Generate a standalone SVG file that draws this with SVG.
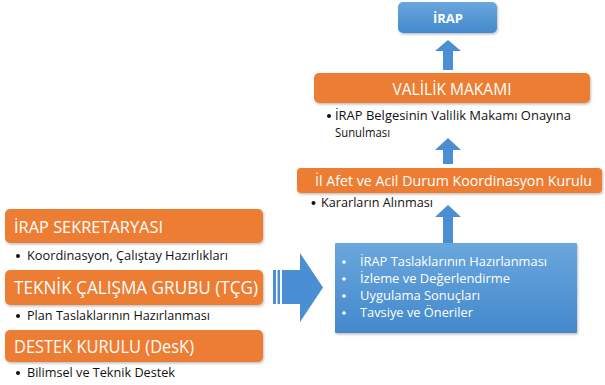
<svg xmlns="http://www.w3.org/2000/svg" width="605" height="385" viewBox="0 0 605 385">
<defs>
<linearGradient id="blueG" x1="0" y1="0" x2="0" y2="1">
<stop offset="0" stop-color="#6aa7dd"/>
<stop offset="1" stop-color="#4389cc"/>
</linearGradient>
<filter id="sh" x="-5%" y="-10%" width="110%" height="130%">
<feDropShadow dx="1" dy="1.5" stdDeviation="1.2" flood-color="#000" flood-opacity="0.25"/>
</filter>
</defs>
<style>
.org{fill:#ed7d31;filter:url(#sh)}
.blu{fill:url(#blueG);filter:url(#sh)}
.arr{fill:#4a8fd3}
.hd{font-family:"Open Sans","Noto Sans",sans-serif;fill:#fff}
.bl{font-family:"Open Sans","Noto Sans",sans-serif;fill:#111;font-size:12px}
.wt{font-family:"Open Sans","Noto Sans",sans-serif;fill:#fff;font-size:12.5px}
.dot{fill:#111}
.wdot{fill:#fff}
</style>
<rect width="605" height="385" fill="#fff"/>
<g id="connectors">
<path class="arr" d="M448,40 L461,51 L453,51 L453,70 L443,70 L443,51 L435,51 Z"/>
<path class="arr" d="M448,138 L461,150 L453,150 L453,164 L443,164 L443,150 L435,150 Z"/>
<path class="arr" d="M448,205 L461,217 L453,217 L453,243 L443,243 L443,217 L435,217 Z"/>
<g class="arr">
<rect x="273" y="270" width="3" height="34"/>
<rect x="277.5" y="270" width="2.5" height="34"/>
<path d="M282,270 L300,270 L300,253 L323,287.5 L300,322 L300,304 L282,304 Z"/>
</g>
</g>
<g id="irap">
<rect class="blu" x="398" y="2" width="99" height="31" rx="5"/>
<text class="hd" x="448" y="23" font-size="13" font-weight="bold" text-anchor="middle">İRAP</text>
</g>
<g id="valilik">
<rect class="org" x="314" y="73" width="276" height="30" rx="5"/>
<text class="hd" x="452" y="95" font-size="17" text-anchor="middle" textLength="119" lengthAdjust="spacingAndGlyphs">VALİLİK MAKAMI</text>
<circle class="dot" cx="329" cy="116" r="2"/>
<text class="bl" x="335" y="120" textLength="236" lengthAdjust="spacingAndGlyphs">İRAP Belgesinin Valilik Makamı Onayına</text>
<text class="bl" x="335" y="137" textLength="55" lengthAdjust="spacingAndGlyphs">Sunulması</text>
</g>
<g id="il-afet">
<rect class="org" x="297" y="168" width="305" height="25" rx="4"/>
<text class="hd" x="315" y="186" font-size="14" textLength="277" lengthAdjust="spacingAndGlyphs">İl Afet ve Acil Durum Koordinasyon Kurulu</text>
<circle class="dot" cx="313.5" cy="203" r="2"/>
<text class="bl" x="321" y="207" textLength="112" lengthAdjust="spacingAndGlyphs">Kararların Alınması</text>
</g>
<g id="blue-box">
<rect class="blu" x="335" y="243" width="242" height="90" rx="1"/>
<circle class="wdot" cx="344" cy="262" r="1.8"/>
<text class="wt" x="360" y="266" textLength="187" lengthAdjust="spacingAndGlyphs">İRAP Taslaklarının Hazırlanması</text>
<circle class="wdot" cx="344" cy="279" r="1.8"/>
<text class="wt" x="360" y="283" textLength="150" lengthAdjust="spacingAndGlyphs">İzleme ve Değerlendirme</text>
<circle class="wdot" cx="344" cy="296" r="1.8"/>
<text class="wt" x="360" y="300" textLength="120" lengthAdjust="spacingAndGlyphs">Uygulama Sonuçları</text>
<circle class="wdot" cx="344" cy="313" r="1.8"/>
<text class="wt" x="360" y="317" textLength="113" lengthAdjust="spacingAndGlyphs">Tavsiye ve Öneriler</text>
</g>
<g id="sekretarya">
<rect class="org" x="5" y="209" width="258" height="34" rx="5"/>
<text class="hd" x="14" y="233" font-size="17" textLength="149" lengthAdjust="spacingAndGlyphs">İRAP SEKRETARYASI</text>
<circle class="dot" cx="18" cy="256" r="2"/>
<text class="bl" x="27" y="260" textLength="201" lengthAdjust="spacingAndGlyphs">Koordinasyon, Çalıştay Hazırlıkları</text>
</g>
<g id="tcg">
<rect class="org" x="5" y="270" width="258" height="35" rx="5"/>
<text class="hd" x="14" y="294" font-size="18" textLength="244" lengthAdjust="spacingAndGlyphs">TEKNİK ÇALIŞMA GRUBU (TÇG)</text>
<circle class="dot" cx="18" cy="316" r="2"/>
<text class="bl" x="27" y="320" textLength="183" lengthAdjust="spacingAndGlyphs">Plan Taslaklarının Hazırlanması</text>
</g>
<g id="desk">
<rect class="org" x="5" y="330" width="258" height="32" rx="5"/>
<text class="hd" x="14" y="353" font-size="18" textLength="180" lengthAdjust="spacingAndGlyphs">DESTEK KURULU (DesK)</text>
<circle class="dot" cx="18" cy="373" r="2"/>
<text class="bl" x="27" y="377" textLength="148" lengthAdjust="spacingAndGlyphs">Bilimsel ve Teknik Destek</text>
</g>
</svg>
